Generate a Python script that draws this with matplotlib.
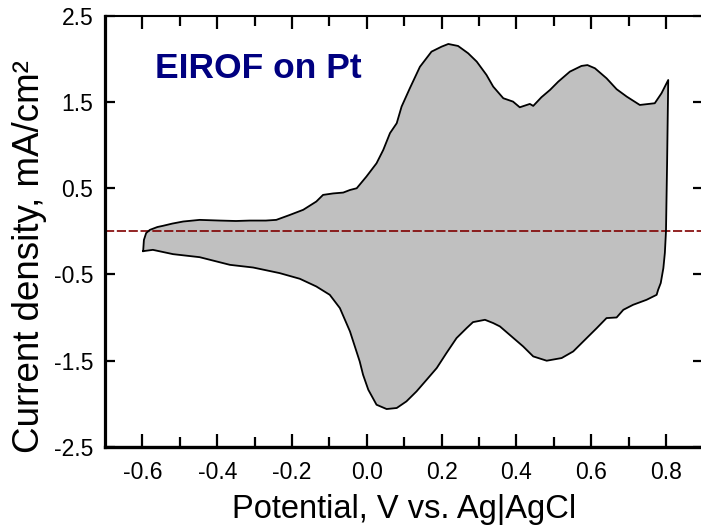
import matplotlib
matplotlib.use("Agg")
import matplotlib.pyplot as plt
import numpy as np

plt.rcParams['font.family'] = ['Liberation Sans', 'DejaVu Sans']
plt.rcParams['axes.unicode_minus'] = False

# Anodic (forward) sweep
E_anodic = [-0.598, -0.596, -0.590, -0.580, -0.560, -0.545, -0.520, -0.491, -0.447, -0.393,
            -0.350, -0.313, -0.270, -0.242, -0.206, -0.170, -0.135, -0.117, -0.090, -0.063,
            -0.045, -0.027, -0.001, 0.026, 0.044, 0.062, 0.080, 0.093, 0.115, 0.142,
            0.173, 0.200, 0.218, 0.244, 0.271, 0.294, 0.320, 0.338, 0.365, 0.391,
            0.409, 0.436, 0.445, 0.467, 0.490, 0.512, 0.543, 0.574, 0.590, 0.610,
            0.641, 0.668, 0.695, 0.730, 0.770, 0.788, 0.806]
j_anodic = [-0.23, -0.10, -0.02, 0.017, 0.05, 0.064, 0.09, 0.114, 0.133, 0.125,
            0.12, 0.125, 0.125, 0.133, 0.19, 0.25, 0.346, 0.423, 0.44, 0.45,
            0.48, 0.50, 0.636, 0.79, 0.945, 1.14, 1.255, 1.448, 1.66, 1.91,
            2.086, 2.144, 2.175, 2.152, 2.067, 1.97, 1.816, 1.68, 1.545, 1.506,
            1.44, 1.479, 1.456, 1.557, 1.642, 1.738, 1.854, 1.92, 1.93, 1.893,
            1.777, 1.65, 1.564, 1.467, 1.487, 1.603, 1.757]

# Cathodic (reverse) sweep
E_cathodic = [0.806, 0.803, 0.800, 0.797, 0.793, 0.786, 0.779, 0.775, 0.748, 0.712,
              0.686, 0.668, 0.641, 0.615, 0.588, 0.552, 0.521, 0.481, 0.445, 0.418,
              0.387, 0.356, 0.338, 0.316, 0.284, 0.267, 0.240, 0.213, 0.187, 0.160,
              0.133, 0.106, 0.080, 0.053, 0.026, 0.004, -0.010, -0.019, -0.045, -0.072,
              -0.099, -0.135, -0.179, -0.233, -0.304, -0.366, -0.447, -0.518, -0.572, -0.598]
j_cathodic = [1.757, 0.8, 0.0, -0.25, -0.427, -0.60, -0.679, -0.737, -0.795, -0.853,
              -0.911, -1.0, -1.007, -1.123, -1.239, -1.394, -1.471, -1.502, -1.452, -1.336,
              -1.22, -1.104, -1.065, -1.027, -1.054, -1.123, -1.239, -1.413, -1.587, -1.723,
              -1.858, -1.974, -2.051, -2.063, -2.013, -1.839, -1.665, -1.51, -1.162, -0.891,
              -0.737, -0.64, -0.551, -0.485, -0.42, -0.389, -0.30, -0.265, -0.215, -0.23]

x_major = [-0.6, -0.4, -0.2, 0.0, 0.2, 0.4, 0.6, 0.8]
x_major_labels = ["-0.6", "-0.4", "-0.2", "0.0", "0.2", "0.4", "0.6", "0.8"]
x_minor = [-0.5, -0.3, -0.1, 0.1, 0.3, 0.5, 0.7]
y_major = [-2.5, -1.5, -0.5, 0.5, 1.5, 2.5]
y_major_labels = ["-2.5", "-1.5", "-0.5", "0.5", "1.5", "2.5"]

title_text = "EIROF on Pt"
xlabel_text = "Potential, V vs. Ag|AgCl"
ylabel_text = "Current density, mA/cm\u00b2"

fig = plt.figure(figsize=(7.01, 5.29), dpi=100)
ax = fig.add_axes([0.1498, 0.1556, 0.8536, 0.8142])

E_loop = np.concatenate([E_anodic, E_cathodic])
j_loop = np.concatenate([j_anodic, j_cathodic])
ax.fill(E_loop, j_loop, facecolor='#c0c0c0', edgecolor='none', zorder=1)
ax.plot(E_loop, j_loop, color='black', lw=1.3, zorder=3)
ax.axhline(0, color='#800000', lw=1.2, dashes=(5.5, 1.6), zorder=2)

ax.set_xlim(-0.7, 0.9)
ax.set_ylim(-2.5, 2.5)
ax.set_xticks(x_major)
ax.set_xticklabels(x_major_labels)
ax.set_xticks(x_minor, minor=True)
ax.set_yticks(y_major)
ax.set_yticklabels(y_major_labels)
ax.set_yticks([], minor=True)

ax.tick_params(axis='x', which='major', direction='in', top=True, bottom=True,
               length=9.5, width=1.6, color='black', pad=10.5, labelsize=16.5)
ax.tick_params(axis='x', which='minor', direction='in', top=True, bottom=True,
               length=7, width=1.6, color='black')
ax.tick_params(axis='y', which='major', direction='in', left=True, right=True,
               length=7.5, width=1.6, color='black', pad=8.5, labelsize=16.5)

ax.spines['left'].set_linewidth(2.3)
ax.spines['bottom'].set_linewidth(2.4)
ax.spines['top'].set_linewidth(1.5)
ax.spines['right'].set_linewidth(1.5)

ax.set_xlabel(xlabel_text, fontsize=23.5, va='baseline')
ax.xaxis.set_label_coords(0.5, -0.1655)
ax.set_ylabel(ylabel_text, fontsize=26.5, va='baseline')
ax.yaxis.set_label_coords(-0.1095, 0.4405)

ax.text(-0.567, 1.78, title_text, color='#000080', fontsize=25.5, fontweight='bold',
        ha='left', va='baseline')

fig.savefig("out.png", dpi=100)
